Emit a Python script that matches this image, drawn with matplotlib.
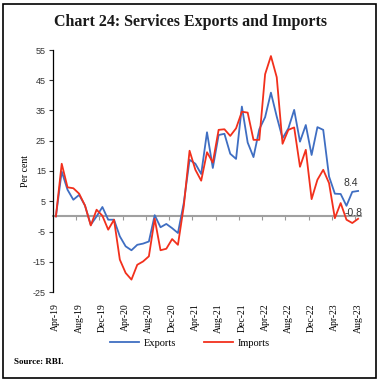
import matplotlib
matplotlib.use("Agg")
import matplotlib.pyplot as plt
from matplotlib.patches import Rectangle
import numpy as np

plt.rcParams["axes.unicode_minus"] = False

# ---- data ----
tick_labels = ["Apr-19", "Aug-19", "Dec-19", "Apr-20", "Aug-20", "Dec-20", "Apr-21",
               "Aug-21", "Dec-21", "Apr-22", "Aug-22", "Dec-22", "Apr-23", "Aug-23"]
exports = [0, 14.8, 8.8, 5.5, 7.1, 3.6, -2.8, 0, 3.1, -1.1, -1.1, -6.6, -9.9, -11.2,
           -9.4, -9.0, -8.3, 0.4, -3.6, -2.5, -3.9, -5.5, 4.4, 18.7, 17.4, 14.0, 27.8,
           16.0, 26.9, 27.3, 20.7, 19.0, 36.3, 24.4, 19.6, 28.8, 32.8, 40.9, 33.0, 25.8,
           29.1, 35.2, 24.7, 30.2, 20.3, 29.5, 28.6, 13.2, 7.5, 7.4, 3.5, 8.1, 8.4]
imports = [0, 17.4, 9.6, 9.3, 7.5, 3.6, -3.0, 2.2, 0.2, -4.4, -1.1, -14.3, -18.7, -20.9,
           -16.0, -14.9, -13.2, -0.8, -11.2, -10.7, -7.5, -9.4, 3.3, 21.7, 15.4, 11.8, 21.2,
           17.8, 28.6, 28.8, 26.6, 29.1, 34.6, 34.3, 25.3, 25.3, 47.0, 53.0, 46.0, 24.0,
           28.6, 29.4, 16.4, 22.0, 5.7, 12.1, 15.4, 11.0, -0.6, 4.4, -1.1, -2.2, -0.8]

n = len(exports)
x = np.arange(n)
blue = "#3F6EC2"
red = "#F2301C"

fig = plt.figure(figsize=(3.8, 3.83), dpi=100)
ax = fig.add_axes([53/380, 91/383, 308/380, 242/383])

ax.plot(x, exports, color=blue, lw=1.3, label="Exports", zorder=3)
ax.plot(x, imports, color=red, lw=1.3, label="Imports", zorder=3)

ax.set_xlim(-0.5, n - 0.5)
ax.set_ylim(-25, 55)
ax.set_yticks(np.arange(-25, 56, 10))
ax.tick_params(axis="y", direction="out", length=3, width=0.8, labelsize=6.5,
               colors="#333333", pad=2)
for t in ax.get_yticklabels():
    t.set_fontfamily("Liberation Sans")
ax.set_xticks(x[::4])
ax.set_xticklabels(tick_labels, rotation=90, fontsize=7, family="Liberation Serif")
ax.tick_params(axis="x", length=0, pad=8)

for s in ["top", "right", "bottom"]:
    ax.spines[s].set_visible(False)
ax.spines["left"].set_linewidth(0.9)

# zero axis line with tick marks between categories
zero_pos = (0 - (-25)) / 80
sec = ax.secondary_xaxis(zero_pos)
sec.set_xticks(np.arange(3.5, n, 4))
sec.tick_params(axis="x", length=3, width=0.8, colors="#999999", labelbottom=False,
                labeltop=False)
for s in sec.spines.values():
    s.set_color("#A0A0A0")
    s.set_linewidth(1.5)

ax.set_ylabel("Per cent", fontsize=7, family="Liberation Serif", labelpad=2)

ax.annotate(f"{exports[-1]}", xy=(x[-1], exports[-1]), xytext=(-5, 6),
            textcoords="offset points", fontsize=7.5, color="#333333",
            family="Liberation Sans", ha="center", va="center")
ax.annotate(f"{imports[-1]}", xy=(x[-1], imports[-1]), xytext=(-3, 4.5),
            textcoords="offset points", fontsize=7.5, color="#333333",
            family="Liberation Sans", ha="center", va="center")

fig.legend(loc="center", bbox_to_anchor=(0.5, 0.104), ncol=2, frameon=False,
           prop={"family": "Liberation Serif", "size": 7.5}, handlelength=2.8,
           columnspacing=2.6, handletextpad=0.5)

fig.text(0.5, 1 - 22/383, "Chart 24: Services Exports and Imports", ha="center",
         va="center", fontsize=11.5, fontweight="bold", family="Liberation Serif",
         color="#1a1a1a")
fig.text(14/380, 1 - 362/383, "Source: RBI.", ha="left", va="center", fontsize=6.5,
         fontweight="bold", family="Liberation Serif")

fig.patches.append(Rectangle((3/380, 5/383), 373/380, 374/383, transform=fig.transFigure,
                             fill=False, lw=1.2, ec="black"))

fig.savefig("out.png", dpi=100)
